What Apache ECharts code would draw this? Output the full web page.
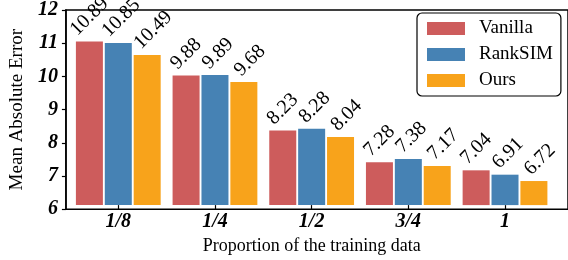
<!DOCTYPE html>
<html>
<head>
<meta charset="utf-8">
<script src="https://cdn.jsdelivr.net/npm/echarts@6/dist/echarts.min.js"></script>
<style>
  html, body { margin: 0; padding: 0; background: #fff; }
  #chart { width: 568px; height: 260px; }
</style>
</head>
<body>
<div id="chart"></div>
<script>
const categories = ['1/8', '1/4', '1/2', '3/4', '1'];
const vanilla = [10.89, 9.88, 8.23, 7.28, 7.04];
const ranksim = [10.85, 9.89, 8.28, 7.38, 6.91];
const ours = [10.49, 9.68, 8.04, 7.17, 6.72];
const yTicks = [6, 7, 8, 9, 10, 11, 12];

const FONT = 'Liberation Serif';
const LABEL_SIZE = 20;

const chart = echarts.init(document.getElementById('chart'));

// measure label text so the rotated box can be stood on top of its bar
const ctx = document.createElement('canvas').getContext('2d');
ctx.font = `${LABEL_SIZE}px "${FONT}"`;
const textWidth = (s) => ctx.measureText(s).width;

const barLabel = {
  show: true,
  position: 'top',
  rotate: 45,
  fontFamily: FONT,
  fontSize: LABEL_SIZE,
  color: '#000',
  formatter: (p) => p.value.toFixed(2),
};

function barSeries(name, data, color, dx) {
  return {
    name,
    type: 'bar',
    data,
    xAxisIndex: 1,
    yAxisIndex: 1,
    barWidth: 27,
    barGap: '7%',
    itemStyle: { color },
    label: barLabel,
    labelLayout: (p) => {
      const half = (textWidth(p.text) + LABEL_SIZE) / (2 * Math.SQRT2);
      return {
        x: p.rect.x + p.rect.width / 2 + dx,
        y: p.rect.y - 2 - half,
        align: 'center',
        verticalAlign: 'middle',
        rotate: 45,
      };
    },
  };
}

chart.setOption({
  animation: false,
  backgroundColor: '#fff',
  grid: [
    // frame
    { left: 53, top: 4.5, width: 516, height: 204.8, show: true, borderColor: '#000', borderWidth: 1.5 },
    // bars
    { left: 69.95, top: 4.5, width: 483.4, height: 204.8 },
  ],
  legend: {
    orient: 'vertical',
    left: 417,
    top: 13,
    itemWidth: 38,
    itemHeight: 13,
    itemGap: 7,
    icon: 'rect',
    padding: [6, 8, 6, 10],
    borderColor: '#000',
    borderWidth: 1.2,
    borderRadius: 5,
    textStyle: { fontFamily: FONT, fontSize: 19, color: '#000', padding: [0, 0, 0, 9] },
    data: ['Vanilla', 'RankSIM', 'Ours'],
  },
  xAxis: [
    { gridIndex: 0, type: 'value', min: 0, max: 1, show: false },
    {
      gridIndex: 1,
      type: 'category',
      data: categories,
      name: 'Proportion of the training data',
      nameLocation: 'middle',
      nameGap: 22,
      nameTextStyle: { fontFamily: FONT, fontSize: 18, color: '#000' },
      axisLine: { show: false },
      axisTick: { show: true, alignWithLabel: true, length: 4, lineStyle: { color: '#000', width: 1.2 } },
      axisLabel: { fontFamily: FONT, fontSize: 20, fontWeight: 'bold', fontStyle: 'italic', color: '#000', margin: 7 },
      splitLine: { show: false },
    },
  ],
  yAxis: [
    {
      gridIndex: 0,
      type: 'value',
      min: yTicks[0],
      max: yTicks[yTicks.length - 1],
      interval: 1,
      name: 'Mean Absolute Error',
      nameLocation: 'middle',
      nameGap: 25,
      nameTextStyle: { fontFamily: FONT, fontSize: 19, color: '#000' },
      axisLine: { show: true, lineStyle: { color: '#000', width: 1.5 } },
      axisTick: { show: true, length: 4, lineStyle: { color: '#000', width: 1.2 } },
      axisLabel: { fontFamily: FONT, fontSize: 20, fontWeight: 'bold', fontStyle: 'italic', color: '#000', margin: 8 },
      splitLine: { show: false },
    },
    { gridIndex: 1, type: 'value', min: yTicks[0], max: yTicks[yTicks.length - 1], show: false },
  ],
  series: [
    barSeries('Vanilla', vanilla, '#CD5C5C', 0),
    barSeries('RankSIM', ranksim, '#4682B4', 3),
    barSeries('Ours', ours, '#F8A31B', 6),
  ],
});
</script>
</body>
</html>
